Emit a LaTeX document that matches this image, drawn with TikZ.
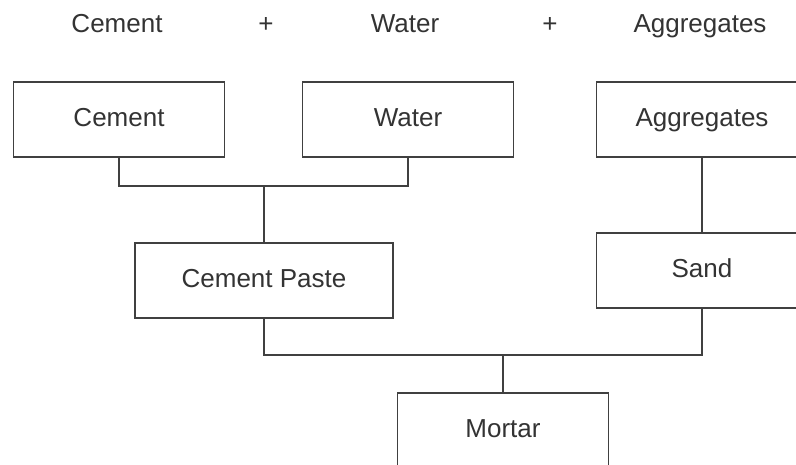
\documentclass[tikz,border=0pt]{standalone}
\usepackage{fontspec}
\setmainfont{Liberation Sans}
\definecolor{linegray}{HTML}{404040}
\definecolor{textgray}{HTML}{333333}

\begin{document}
\begin{tikzpicture}[x=1pt,y=-1pt,
  box/.style={draw=linegray, line width=1.4pt, fill=white, text=textgray,
    minimum width=211pt, minimum height=75pt, inner sep=0pt,
    text height=19pt, text depth=5pt, font=\fontsize{26}{30}\selectfont},
  top/.style={text=textgray, inner sep=0pt, text height=19pt, text depth=5pt,
    font=\fontsize{26}{30}\selectfont},
  link/.style={draw=linegray, line width=1.4pt}]
\useasboundingbox [fill=white] (0,0) rectangle (796,464);
% header
\node [top] (hcement) at (117,25) {Cement};
\node [top] (hplusa) at (266,25) {+};
\node [top] (hwater) at (405,25) {Water};
\node [top] (hplusb) at (550,25) {+};
\node [top] (haggr) at (700,25) {Aggregates};
% boxes
\node [box] (cement) at (119,119.5) {Cement};
\node [box] (water) at (408,119.5) {Water};
\node [box] (aggr) at (702,119.5) {Aggregates};
\node [box, minimum width=258pt] (paste) at (264,280.5) {Cement Paste};
\node [box] (sand) at (702,270.5) {Sand};
\node [box] (mortar) at (503,430.5) {Mortar};
% joins
\coordinate (jpaste) at (264,186);
\coordinate (jmortar) at (503,355);
\draw [link] (cement.south) |- (jpaste) -| (water.south);
\draw [link, line width=2pt] (jpaste) -- (paste.north);
\draw [link] (aggr.south) -- (sand.north);
\draw [link] (paste.south) |- (jmortar) -| (sand.south);
\draw [link, line width=2pt] (jmortar) -- (mortar.north);
\end{tikzpicture}
\end{document}
